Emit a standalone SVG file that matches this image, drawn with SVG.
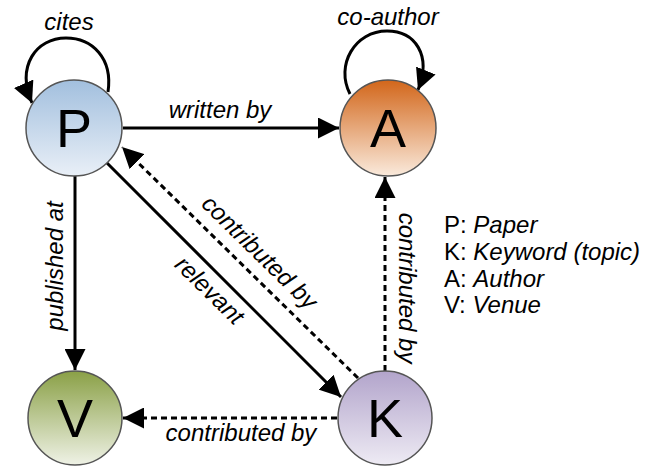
<svg xmlns="http://www.w3.org/2000/svg" width="650" height="466" viewBox="0 0 650 466">
<style>
  .node { stroke: #555; stroke-width: 1.5; }
  .letter { font-family: "Liberation Sans", Arial, sans-serif; font-size: 54px; fill: #000; text-anchor: middle; }
  .lbl { font-family: "Liberation Sans", Arial, sans-serif; font-size: 24px; font-style: italic; fill: #000; text-anchor: middle; }
  .leg { font-family: "Liberation Sans", Arial, sans-serif; font-size: 24px; fill: #000; }
  .leg tspan.i { font-style: italic; }
  .edge { fill: none; stroke: #000; stroke-width: 3; }
  .dash { stroke-dasharray: 6 4; }
</style>
<defs>
  <linearGradient id="gP" x1="0" y1="0" x2="0" y2="1"><stop offset="0" stop-color="#a2bfde"/><stop offset="1" stop-color="#e9eff7"/></linearGradient>
  <linearGradient id="gA" x1="0" y1="0" x2="0" y2="1"><stop offset="0" stop-color="#d2661a"/><stop offset="1" stop-color="#faeadc"/></linearGradient>
  <linearGradient id="gV" x1="0" y1="0" x2="0" y2="1"><stop offset="0" stop-color="#8aa046"/><stop offset="1" stop-color="#eff2e6"/></linearGradient>
  <linearGradient id="gK" x1="0" y1="0" x2="0" y2="1"><stop offset="0" stop-color="#b2a4cb"/><stop offset="1" stop-color="#eeebf4"/></linearGradient>
  <marker id="arr" markerUnits="userSpaceOnUse" markerWidth="22" markerHeight="21" refX="21" refY="10.5" orient="auto">
    <path d="M0,0 L21,10.5 L0,21 z" fill="#000"/>
  </marker>
</defs>
<g id="connectors">
  <path class="edge" d="M108,92 C113,58 92,38 66,38 C36,38 16,66 32,103" marker-end="url(#arr)"/>
  <path class="edge" d="M350,94 C335,65 355,31 387,31 C415,31 432,55 418,90" marker-end="url(#arr)"/>
  <line class="edge" x1="123" y1="128" x2="339" y2="128" marker-end="url(#arr)"/>
  <line class="edge" x1="75" y1="176" x2="75" y2="370" marker-end="url(#arr)"/>
  <line class="edge" x1="107" y1="163" x2="341" y2="397" marker-end="url(#arr)"/>
  <line class="edge dash" x1="358" y1="378" x2="122" y2="147" marker-end="url(#arr)"/>
  <line class="edge dash" x1="385" y1="371" x2="385" y2="177" marker-end="url(#arr)"/>
  <line class="edge dash" x1="337" y1="418" x2="123" y2="418" marker-end="url(#arr)"/>
</g>
<g id="edge-labels">
  <text class="lbl" x="69" y="30">cites</text>
  <text class="lbl" x="388" y="25">co-author</text>
  <text class="lbl" x="220" y="118">written by</text>
  <text class="lbl" transform="translate(63,266) rotate(-90)">published at</text>
  <text class="lbl" transform="translate(204,296) rotate(44.5)">relevant</text>
  <text class="lbl" transform="translate(254,258) rotate(44.5)">contributed by</text>
  <text class="lbl" transform="translate(399,288) rotate(90)">contributed by</text>
  <text class="lbl" x="241" y="441">contributed by</text>
</g>
<g id="node-P"><circle class="node" cx="74" cy="128" r="48" fill="url(#gP)"/><text class="letter" x="74" y="147">P</text></g>
<g id="node-A"><circle class="node" cx="388" cy="128" r="48" fill="url(#gA)"/><text class="letter" x="388" y="147">A</text></g>
<g id="node-V"><circle class="node" cx="75" cy="418" r="47" fill="url(#gV)"/><text class="letter" x="75" y="437">V</text></g>
<g id="node-K"><circle class="node" cx="385" cy="418" r="47" fill="url(#gK)"/><text class="letter" x="385" y="437">K</text></g>
<g id="legend">
  <text class="leg" x="444" y="233">P: <tspan class="i">Paper</tspan></text>
  <text class="leg" x="444" y="260">K: <tspan class="i">Keyword (topic)</tspan></text>
  <text class="leg" x="444" y="287">A: <tspan class="i">Author</tspan></text>
  <text class="leg" x="444" y="313">V: <tspan class="i">Venue</tspan></text>
</g>
</svg>
